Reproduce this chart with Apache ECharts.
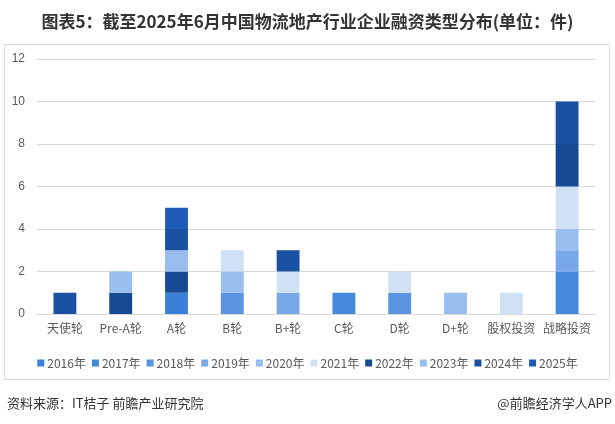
<!DOCTYPE html>
<html><head><meta charset="utf-8">
<script src="https://cdn.jsdelivr.net/npm/echarts@6/dist/echarts.min.js"></script>
<style>html,body{margin:0;padding:0;background:#fff}#c{width:615px;height:424px}</style>
</head><body><div id="c"></div>
<script>
const categories = ['天使轮','Pre-A轮','A轮','B轮','B+轮','C轮','D轮','D+轮','股权投资','战略投资'];
const years = ['2016年','2017年','2018年','2019年','2020年','2021年','2022年','2023年','2024年','2025年'];
const y2016 = [0,0,1,0,0,0,0,0,0,0];
const y2017 = [0,0,0,0,0,1,0,0,0,2];
const y2018 = [0,0,0,1,0,0,1,0,0,0];
const y2019 = [0,0,0,0,1,0,0,0,0,1];
const y2020 = [0,0,0,1,0,0,0,1,0,1];
const y2021 = [0,0,0,1,1,0,1,0,1,2];
const y2022 = [0,1,1,0,0,0,0,0,0,2];
const y2023 = [0,1,1,0,0,0,0,0,0,0];
const y2024 = [1,0,1,0,1,0,0,0,0,2];
const y2025 = [0,0,1,0,0,0,0,0,0,0];
const yTicks = [0,2,4,6,8,10,12];
const colors = ['#3a80d9','#4589dd','#5a94e0','#79a8e8','#98beef','#d1e1f5','#164a94','#98beef','#1a51a2','#1e5cb8'];
const seriesData = [y2016,y2017,y2018,y2019,y2020,y2021,y2022,y2023,y2024,y2025];

const chart = echarts.init(document.getElementById('c'), null, {renderer:'canvas'});
chart.setOption({
  animation:false,
  color: colors,
  title:{text:'图表5：截至2025年6月中国物流地产行业企业融资类型分布(单位：件)', left:'center', top:8,
    textStyle:{fontSize:17, fontWeight:'bold', color:'#333', fontFamily:'Noto Sans CJK SC'}},
  graphic:[
    {type:'rect', shape:{x:4.5,y:44.5,width:605,height:335}, style:{fill:'none', stroke:'#d9d9d9', lineWidth:1}, z:-1},
    {type:'text', left:7, top:397, style:{text:'资料来源：IT桔子 前瞻产业研究院', fontSize:13, fill:'#333', fontFamily:'Noto Sans CJK SC'}},
    {type:'text', right:3, top:397, style:{text:'@前瞻经济学人APP', fontSize:13, fill:'#333', fontFamily:'Noto Sans CJK SC'}}
  ],
  legend:{data:years, top:352, left:'center', width:600, itemWidth:7, itemHeight:7, itemGap:6, icon:'rect',
    textStyle:{fontSize:12, color:'#595959', padding:[0,0,0,-2], fontFamily:'Noto Sans CJK SC'}},
  grid:{left:37, right:20, top:59, bottom:110},
  xAxis:{type:'category', data:categories, axisTick:{show:false},
    axisLine:{lineStyle:{color:'#d9d9d9'}},
    axisLabel:{fontSize:12, color:'#595959', margin:8, interval:0, fontFamily:'Noto Sans CJK SC'}},
  yAxis:{type:'value', min:0, max:12, interval:2,
    axisLabel:{fontSize:12, color:'#595959', margin:12, formatter:v=>yTicks.includes(v)?String(v):''},
    splitLine:{lineStyle:{color:'#d9d9d9'}}, axisLine:{show:false}, axisTick:{show:false}},
  series: seriesData.map((d,i)=>({name:years[i], type:'bar', stack:'total', barWidth:'41%',
    data:d.map(v=>v===0?null:v)}))
});
</script></body></html>
